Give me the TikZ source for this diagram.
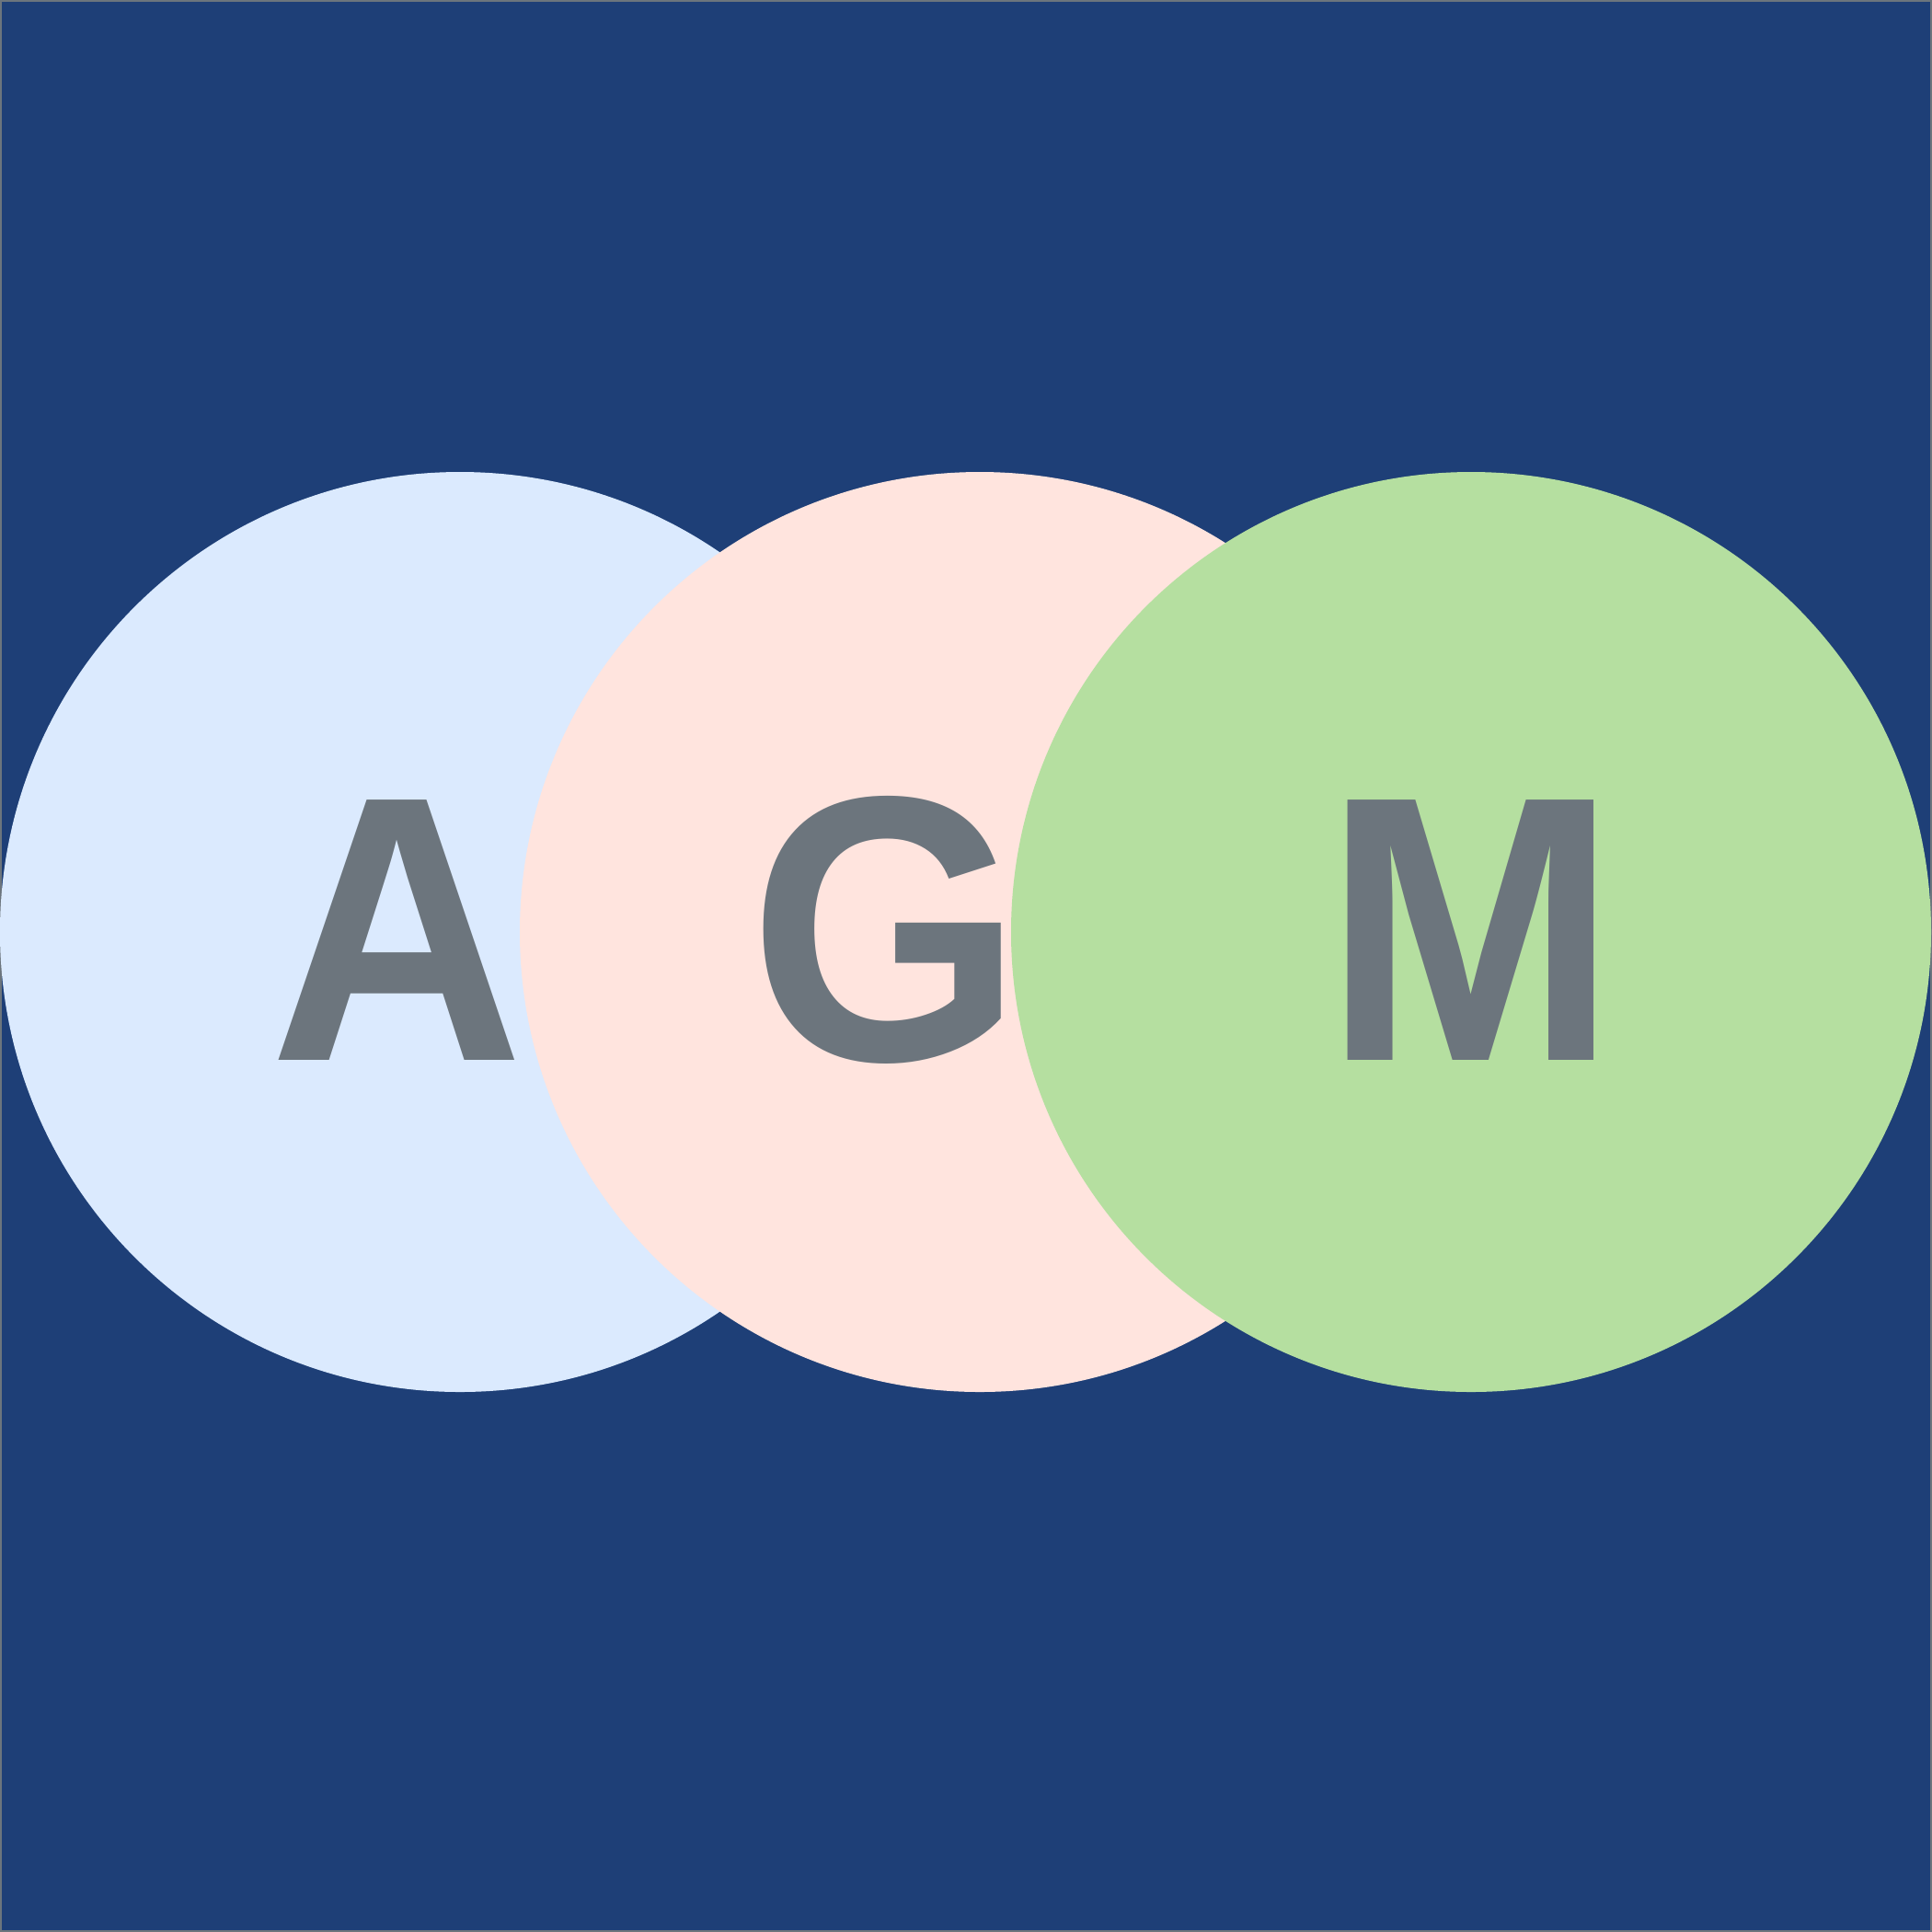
\documentclass[tikz,border=0pt]{standalone}
\usepackage{fontspec}
\setmainfont{Liberation Sans}
\newfontfamily\letterfont{Liberation Sans}[FakeStretch=0.93]
\definecolor{bgblue}{HTML}{1E3F77}
\definecolor{cblue}{HTML}{DBEAFE}
\definecolor{cpink}{HTML}{FFE4DE}
\definecolor{cgreen}{HTML}{B5DFA0}
\definecolor{lettergray}{HTML}{6C757D}
\tikzset{
  disc/.style={circle, minimum size=10cm, inner sep=0pt, draw=none},
  letter/.style={text=lettergray, inner sep=0pt, anchor=base, font=\letterfont\fontsize{117}{117}\selectfont\bfseries}
}
\begin{document}
\begin{tikzpicture}
\useasboundingbox (0,0) rectangle (21,-21);
\fill[bgblue, draw=lettergray, line width=0.6pt] (0.005,-0.005) rectangle (20.995,-20.995);
\node[disc, fill=cblue] (c1) at (5.0,-10.13) {};
\node[disc, fill=cpink] (c2) at (10.65,-10.13) {};
\node[disc, fill=cgreen] (c3) at (15.99,-10.13) {};
\node[letter] (la) at (4.32,-11.527) {A};
\node[letter] (lg) at (9.63,-11.527) {G};
\node[letter] (lm) at (15.99,-11.527) {M};
\end{tikzpicture}
\end{document}
